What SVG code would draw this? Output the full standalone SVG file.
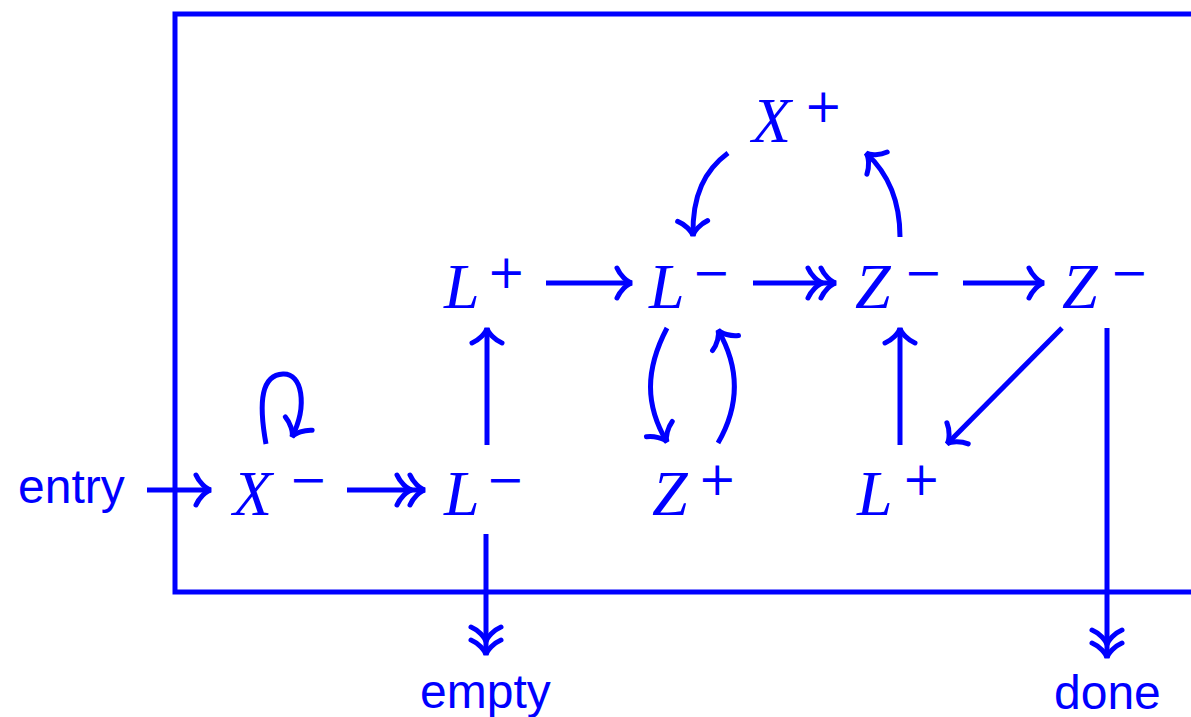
<svg xmlns="http://www.w3.org/2000/svg" width="1191" height="717" viewBox="0 0 1191 717">
<style>
.ln{fill:none;stroke:#0000ff;stroke-width:5;}
.b{font-family:"Liberation Serif",serif;font-style:italic;font-size:64px;fill:#0000ff;}
.s{font-family:"DejaVu Serif",serif;font-size:46px;fill:#0000ff;}
.t{font-family:"Liberation Sans",Arial,sans-serif;font-size:48px;fill:#0000ff;}
</style>
<defs>
<marker id="ah" markerUnits="userSpaceOnUse" viewBox="-20 -20 26 40" refX="0" refY="0" markerWidth="26" markerHeight="40" orient="auto" overflow="visible">
<path d="M-15,-15 C-12,-8 -5,-1 0,0 C-5,1 -12,8 -15,15" fill="none" stroke="#0000ff" stroke-width="5" stroke-linecap="round"/>
</marker>
<marker id="ah2" markerUnits="userSpaceOnUse" viewBox="-32 -20 38 40" refX="0" refY="0" markerWidth="38" markerHeight="40" orient="auto" overflow="visible">
<path d="M-15,-15 C-12,-8 -5,-1 0,0 C-5,1 -12,8 -15,15 M-28,-15 C-25,-8 -18,-1 -13,0 C-18,1 -25,8 -28,15" fill="none" stroke="#0000ff" stroke-width="5" stroke-linecap="round"/>
</marker>
</defs>
<rect id="frame" x="175" y="14" width="1100" height="578" class="ln"/>

<g id="entry"><text class="t" x="18" y="503">entry</text></g>
<g id="empty"><text class="t" x="420" y="708">empty</text></g>
<g id="done"><text class="t" x="1054" y="709">done</text></g>

<g id="Xm"><text class="b" x="233" y="515">X</text><text class="s" x="289" y="495">−</text></g>
<g id="Lm1"><text class="b" x="444" y="515">L</text><text class="s" x="486" y="495">−</text></g>
<g id="Zp"><text class="b" x="652" y="515">Z</text><text class="s" x="698" y="495">+</text></g>
<g id="Lp2"><text class="b" x="857" y="515">L</text><text class="s" x="902" y="495">+</text></g>
<g id="Lp1"><text class="b" x="444" y="308">L</text><text class="s" x="487" y="288">+</text></g>
<g id="Lm2"><text class="b" x="649" y="308">L</text><text class="s" x="692" y="288">−</text></g>
<g id="Zm1"><text class="b" x="855" y="308">Z</text><text class="s" x="904" y="288">−</text></g>
<g id="Zm2"><text class="b" x="1062" y="308">Z</text><text class="s" x="1110" y="288">−</text></g>
<g id="Xp"><text class="b" x="752" y="142">X</text><text class="s" x="804" y="122">+</text></g>

<g id="connectors">
<path class="ln" d="M147,490 L211,490" marker-end="url(#ah)"/>
<path class="ln" d="M347,490 L425,490" marker-end="url(#ah2)"/>
<path class="ln" d="M266,444 C258,400 262,375 283,374 C302,373 308,405 292,437" marker-end="url(#ah)"/>
<path class="ln" d="M487,445 L487,328" marker-end="url(#ah)"/>
<path class="ln" d="M486,534 L486,655" marker-end="url(#ah2)"/>
<path class="ln" d="M546,283 L632,283" marker-end="url(#ah)"/>
<path class="ln" d="M753,283 L836,283" marker-end="url(#ah2)"/>
<path class="ln" d="M963,283 L1044,283" marker-end="url(#ah)"/>
<path class="ln" d="M900,445 L900,328" marker-end="url(#ah)"/>
<path class="ln" d="M1062,328 L947,444" marker-end="url(#ah)"/>
<path class="ln" d="M1107,328 L1107,658" marker-end="url(#ah2)"/>
<path class="ln" d="M667,328 C645,370 645,405 667,442" marker-end="url(#ah)"/>
<path class="ln" d="M718,443 C740,405 740,368 718,330" marker-end="url(#ah)"/>
<path class="ln" d="M728,153 C705,170 692,195 693,236" marker-end="url(#ah)"/>
<path class="ln" d="M900,237 C900,205 890,175 866,153" marker-end="url(#ah)"/>
</g>
</svg>
